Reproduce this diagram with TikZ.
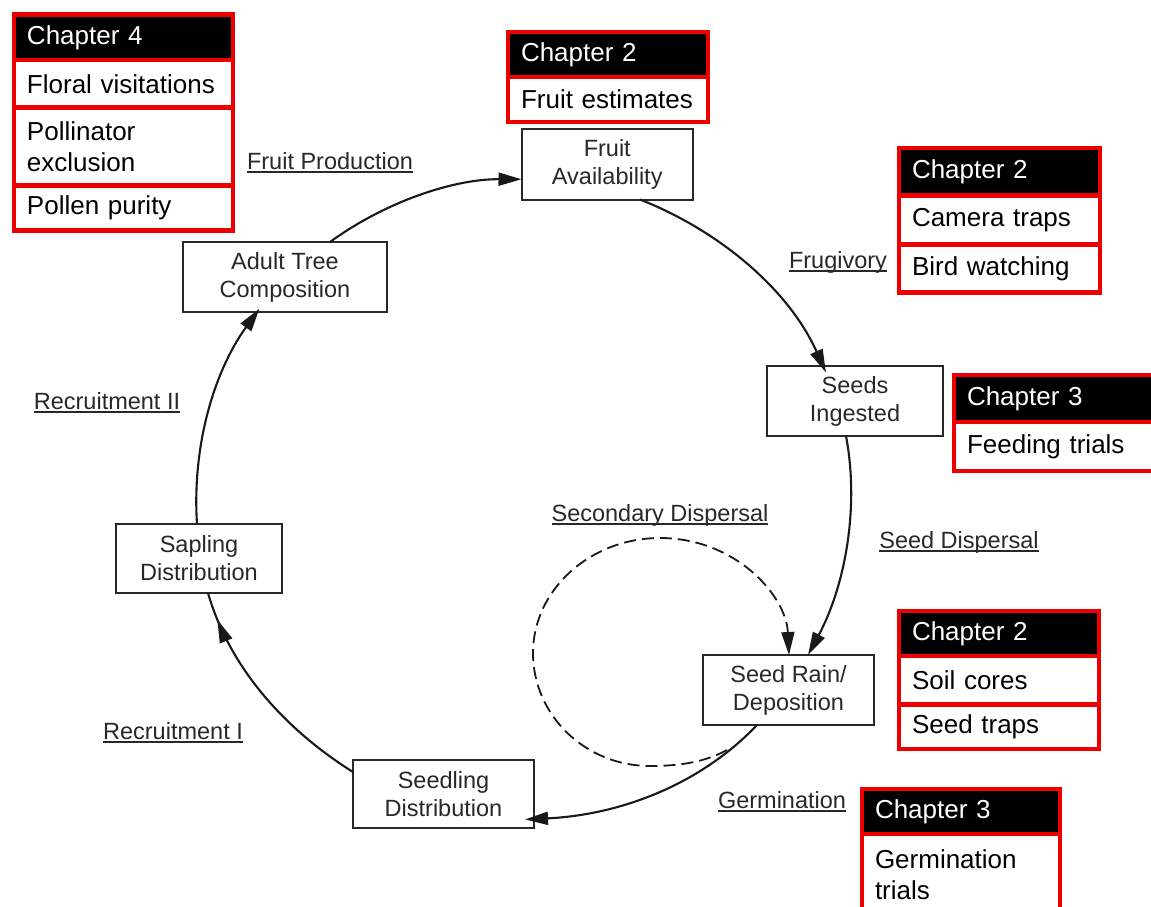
\documentclass[tikz,border=0pt]{standalone}
\usepackage{fontspec}
\setmainfont{Liberation Sans}
\usetikzlibrary{arrows.meta,decorations.markings}
\definecolor{cred}{RGB}{238,0,0}
\definecolor{ink}{RGB}{40,40,40}
\definecolor{lnk}{RGB}{25,25,25}
\newsavebox\ulbox
\newcommand\ulab[1]{\sbox\ulbox{#1}\rlap{\rule[-4pt]{\wd\ulbox}{1.8pt}}\usebox\ulbox}
\begin{document}
\begin{tikzpicture}[x=1pt,y=-1pt,
  stagebox/.style={draw=ink, line width=2pt, text=ink, align=center,
    font=\fontsize{23.5}{28}\selectfont, inner sep=0pt, outer sep=0pt},
  lab/.style={text=ink, font=\fontsize{23.5}{28}\selectfont, anchor=base, inner sep=0pt},
  tipstyle/.style={-{Triangle[length=23pt,width=13pt]}},
  flow/.style={draw=lnk, line width=2.1pt, tipstyle},
  dflow/.style={draw=lnk, line width=1.8pt, dash pattern=on 12pt off 6pt, tipstyle},
  chrow/.style={draw=cred, line width=4.5pt, fill=white, text=black, anchor=north west,
    outer sep=0pt, inner xsep=13pt, inner ysep=0pt, align=left,
    font=\fontsize{26}{31}\selectfont},
  chhead/.style={chrow, fill=black, text=white}]
\clip (0,0) rectangle (1151,907);
\fill[white] (0,0) rectangle (1151,907);

% ---- stage boxes
\node[stagebox, minimum width=171.5pt, minimum height=70.5pt] (fa) at (607.25,164.25) {Fruit\\Availability};
\node[stagebox, minimum width=204pt, minimum height=70pt] (adult) at (285,277) {Adult Tree\\Composition};
\node[stagebox, minimum width=176pt, minimum height=70pt] (seeds) at (855,401) {Seeds\\Ingested};
\node[stagebox, minimum width=166pt, minimum height=69pt] (sapling) at (199,558.5) {Sapling\\Distribution};
\node[stagebox, minimum width=171pt, minimum height=70pt] (rain) at (788.5,690) {Seed Rain/\\Deposition};
\node[stagebox, minimum width=181pt, minimum height=68pt] (seedling) at (443.5,794) {Seedling\\Distribution};

% ---- labels
\node[lab] (lfp) at (330,169) {\ulab{Fruit Production}};
\node[lab] (lfr) at (838,268) {\ulab{Frugivory}};
\node[lab] (lr2) at (107,409) {\ulab{Recruitment II}};
\node[lab] (lsd2) at (660,521) {\ulab{Secondary Dispersal}};
\node[lab] (lsd) at (959,548) {\ulab{Seed Dispersal}};
\node[lab] (lr1) at (173,739) {\ulab{Recruitment I}};
\node[lab] (lger) at (782,808) {\ulab{Germination}};

% ---- connectors
\draw[flow] ([xshift=147pt]adult.north west) .. controls (385,202) and (453,179) .. ([yshift=-15pt]fa.west);
\draw[flow, shorten >=-7pt] ([xshift=118.5pt]fa.south west) .. controls (720,231) and (789,290) .. ([xshift=56pt]seeds.north west);
\draw[flow] ([xshift=79pt]seeds.south west) .. controls (860,510) and (844,588) .. ([xshift=105pt]rain.north west);
\draw[flow, shorten >=-9pt] ([xshift=54pt]rain.south west) .. controls (699,786) and (618,815) .. ([yshift=-25pt]seedling.east);
\coordinate (dstart) at (727,750);
\draw[dflow] (dstart) .. controls (705,762) and (680,766) .. (650,766)
  .. controls (585,766) and (533,715) .. (533,653)
  .. controls (533,590) and (590,538) .. (660,538)
  .. controls (735,538) and (786,595) .. ([xshift=86pt]rain.north west);
\draw[draw=lnk, line width=2.1pt, postaction={decorate, decoration={markings,
    mark=at position 0.88 with {\arrow{Triangle[length=23pt,width=13pt]}}}}]
  ([yshift=-12pt]seedling.north west) .. controls (286,730) and (230,669) .. ([xshift=92pt]sapling.south west);
\draw[flow, shorten >=-4pt] ([xshift=81pt]sapling.north west) .. controls (192,448) and (213,373) .. ([xshift=74pt]adult.south west);

% ---- Chapter 4
\node[chhead, minimum width=219pt, text width=193pt, minimum height=45.3pt] (c4h) at (14,14.7) {Chapter 4};
\node[chrow, minimum width=219pt, text width=193pt, minimum height=47.5pt] (c4a) at (c4h.south west) {Floral visitations};
\node[chrow, minimum width=219pt, text width=193pt, minimum height=78pt] (c4b) at (c4a.south west) {Pollinator\\exclusion};
\node[chrow, minimum width=219pt, text width=193pt, minimum height=45pt] (c4c) at (c4b.south west) {Pollen purity};

% ---- Chapter 2 (fruit)
\node[chhead, minimum width=200pt, text width=174pt, minimum height=45pt] (c2ah) at (508,32) {Chapter 2};
\node[chrow, minimum width=200pt, text width=174pt, minimum height=45pt] (c2aa) at (c2ah.south west) {Fruit estimates};

% ---- Chapter 2 (frugivory)
\node[chhead, minimum width=201pt, text width=175pt, minimum height=47.5pt] (c2bh) at (899,148) {Chapter 2};
\node[chrow, minimum width=201pt, text width=175pt, minimum height=49pt] (c2ba) at (c2bh.south west) {Camera traps};
\node[chrow, minimum width=201pt, text width=175pt, minimum height=48pt] (c2bb) at (c2ba.south west) {Bird watching};

% ---- Chapter 3 (feeding)
\node[chhead, minimum width=211pt, text width=185pt, minimum height=47pt] (c3ah) at (954,375) {Chapter 3};
\node[chrow, minimum width=211pt, text width=185pt, minimum height=49pt] (c3aa) at (c3ah.south west) {Feeding trials};

% ---- Chapter 2 (seed rain)
\node[chhead, minimum width=200pt, text width=174pt, minimum height=45pt] (c2ch) at (899,611) {Chapter 2};
\node[chrow, minimum width=200pt, text width=174pt, minimum height=48.5pt] (c2ca) at (c2ch.south west) {Soil cores};
\node[chrow, minimum width=200pt, text width=174pt, minimum height=44.5pt] (c2cb) at (c2ca.south west) {Seed traps};

% ---- Chapter 3 (germination)
\node[chhead, minimum width=198pt, text width=172pt, minimum height=45pt] (c3bh) at (862,789) {Chapter 3};
\node[chrow, minimum width=198pt, text width=172pt, minimum height=81pt] (c3ba) at (c3bh.south west) {Germination\\trials};
\end{tikzpicture}
\end{document}
